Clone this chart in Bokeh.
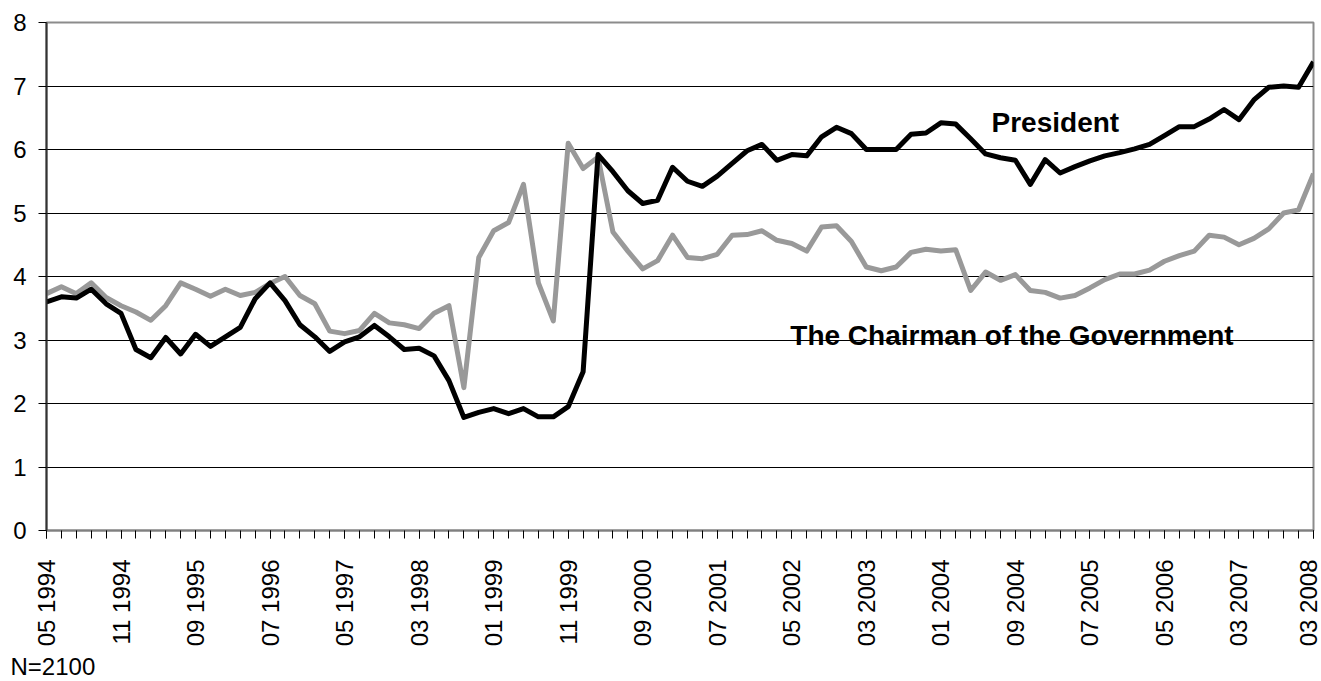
import math
from bokeh.plotting import figure
from bokeh.models import Range1d, FixedTicker, Label, Title
from bokeh.embed import file_html
from bokeh.resources import INLINE

# Survey waves (category index); every fifth wave is labelled
tick_labels = ["05 1994", "11 1994", "09 1995", "07 1996", "05 1997", "03 1998",
               "01 1999", "11 1999", "09 2000", "07 2001", "05 2002", "03 2003",
               "01 2004", "09 2004", "07 2005", "05 2006", "03 2007", "03 2008"]
label_step = 5

president = [3.60, 3.68, 3.66, 3.80, 3.57, 3.42, 2.85, 2.72, 3.04, 2.78,
             3.09, 2.90, 3.05, 3.20, 3.65, 3.90, 3.62, 3.24, 3.05, 2.82,
             2.97, 3.05, 3.23, 3.05, 2.85, 2.87, 2.75, 2.36, 1.78, 1.86,
             1.92, 1.84, 1.92, 1.79, 1.79, 1.95, 2.50, 5.92, 5.65, 5.35,
             5.15, 5.20, 5.72, 5.50, 5.42, 5.58, 5.78, 5.98, 6.08, 5.83,
             5.92, 5.90, 6.20, 6.35, 6.25, 6.00, 6.00, 6.00, 6.24, 6.26,
             6.42, 6.40, 6.17, 5.93, 5.87, 5.83, 5.45, 5.84, 5.63, 5.73,
             5.82, 5.90, 5.95, 6.01, 6.08, 6.22, 6.36, 6.36, 6.48, 6.63,
             6.47, 6.78, 6.98, 7.00, 6.98, 7.38]

chairman = [3.73, 3.84, 3.73, 3.90, 3.67, 3.54, 3.44, 3.31, 3.54, 3.90,
            3.80, 3.69, 3.80, 3.70, 3.75, 3.89, 4.00, 3.70, 3.57, 3.14,
            3.10, 3.15, 3.42, 3.27, 3.24, 3.18, 3.42, 3.54, 2.25, 4.30,
            4.72, 4.85, 5.45, 3.90, 3.30, 6.10, 5.70, 5.88, 4.70, 4.40,
            4.12, 4.25, 4.65, 4.30, 4.28, 4.35, 4.65, 4.66, 4.72, 4.57,
            4.52, 4.40, 4.78, 4.80, 4.55, 4.15, 4.09, 4.15, 4.38, 4.43,
            4.40, 4.42, 3.78, 4.07, 3.94, 4.03, 3.78, 3.75, 3.66, 3.70,
            3.82, 3.95, 4.04, 4.04, 4.10, 4.24, 4.33, 4.40, 4.65, 4.62,
            4.50, 4.60, 4.75, 5.00, 5.05, 5.62]

waves = list(range(len(president)))
y_ticks = [0, 1, 2, 3, 4, 5, 6, 7, 8]

FONT = "Liberation Sans"

p = figure(width=1321, height=681, output_backend="svg", toolbar_location=None,
           x_range=Range1d(0, len(waves) - 1), y_range=Range1d(0, 8),
           min_border_left=46, min_border_right=8, min_border_top=22,
           min_border_bottom=151)

p.background_fill_color = "white"
p.border_fill_color = "white"
p.outline_line_color = "#8c8c8c"
p.outline_line_width = 2

# grid
p.xgrid.visible = False
p.ygrid.ticker = FixedTicker(ticks=y_ticks)
p.ygrid.grid_line_color = "black"
p.ygrid.grid_line_width = 1

# y axis
p.yaxis.ticker = FixedTicker(ticks=y_ticks)
p.yaxis.axis_line_color = "#333333"
p.yaxis.axis_line_width = 2
p.yaxis.major_tick_line_color = "black"
p.yaxis.major_tick_out = 8
p.yaxis.major_tick_in = 0
p.yaxis.minor_tick_line_color = None
p.yaxis.major_label_text_font = FONT
p.yaxis.major_label_text_font_size = "24px"
p.yaxis.major_label_text_color = "black"
p.yaxis.major_label_standoff = 12

# x axis
major = list(range(0, len(waves), label_step))
p.xaxis.ticker = FixedTicker(ticks=major, minor_ticks=waves)
p.xaxis.major_label_overrides = {m: tick_labels[k] for k, m in enumerate(major)}
p.xaxis.major_label_orientation = math.pi / 2
p.xaxis.axis_line_color = "#808080"
p.xaxis.axis_line_width = 2
p.xaxis.major_tick_line_color = "black"
p.xaxis.minor_tick_line_color = "black"
p.xaxis.major_tick_out = 8
p.xaxis.major_tick_in = 0
p.xaxis.minor_tick_out = 8
p.xaxis.minor_tick_in = 0
p.xaxis.major_label_text_font = FONT
p.xaxis.major_label_text_font_size = "24px"
p.xaxis.major_label_text_color = "black"
p.xaxis.major_label_standoff = 21

# series
p.line(waves, chairman, line_color="#999999", line_width=5, line_join="round")
p.line(waves, president, line_color="black", line_width=5, line_join="round")

# annotations
p.add_layout(Label(x=63.4, y=6.43, text="President", text_font=FONT,
                   text_font_style="bold", text_font_size="28px",
                   text_color="black", text_baseline="alphabetic"))
p.add_layout(Label(x=49.9, y=3.07, text="The Chairman of the Government", text_font=FONT,
                   text_font_style="bold", text_font_size="28px",
                   text_color="black", text_baseline="alphabetic"))

note = Title(text="N=2100", align="left", offset=-36, text_font=FONT,
             text_font_size="24px", text_font_style="normal",
             text_color="black", standoff=3)
p.add_layout(note, "below")

open("out.html", "w").write(file_html(p, INLINE))
